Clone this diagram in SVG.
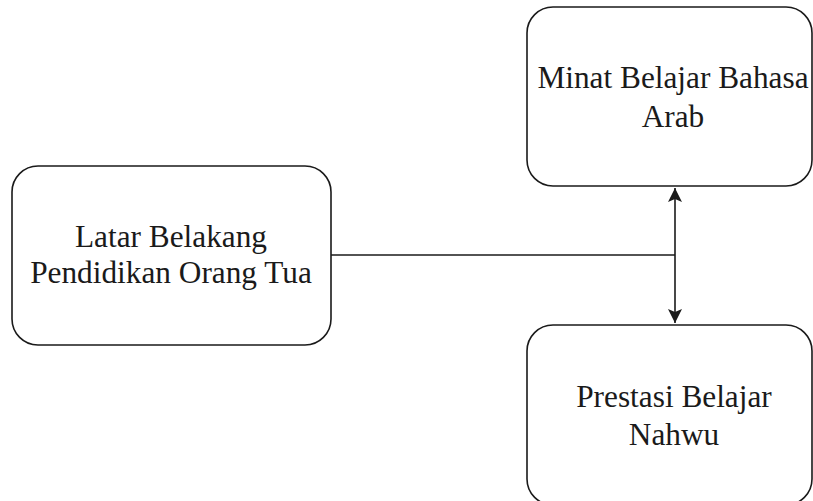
<svg xmlns="http://www.w3.org/2000/svg" width="813" height="501" viewBox="0 0 813 501">
<style>
.box{fill:#fff;stroke:#1a1a1a;stroke-width:1.6}
.lbl{font-family:"Liberation Serif","Times New Roman",serif;font-size:31.3px;fill:#1a1a1a;text-anchor:middle}
.con{fill:none;stroke:#1a1a1a;stroke-width:1.6}
</style>
<defs>
<marker id="ah" viewBox="0 0 14 14" refX="14" refY="7" markerWidth="14" markerHeight="14" markerUnits="userSpaceOnUse" orient="auto-start-reverse">
<path d="M0,0 L14,7 L0,14 L3,7 Z" fill="#1a1a1a"/>
</marker>
</defs>
<rect width="813" height="501" fill="#fff"/>
<g id="node-latar">
<rect class="box" x="12" y="166" width="319" height="179" rx="26" ry="26"/>
<text class="lbl" x="171" y="247">Latar Belakang</text>
<text class="lbl" x="171" y="283">Pendidikan Orang Tua</text>
</g>
<g id="node-minat">
<rect class="box" x="527" y="7" width="285" height="179" rx="26" ry="26"/>
<text class="lbl" x="673" y="88">Minat Belajar Bahasa</text>
<text class="lbl" x="673" y="127">Arab</text>
</g>
<g id="node-prestasi">
<rect class="box" x="527" y="325" width="285" height="180" rx="26" ry="26"/>
<text class="lbl" x="674" y="407">Prestasi Belajar</text>
<text class="lbl" x="674" y="445">Nahwu</text>
</g>
<g id="connectors">
<path class="con" d="M331,255 H675"/>
<path class="con" d="M675,188 V323" marker-start="url(#ah)" marker-end="url(#ah)"/>
</g>
</svg>
